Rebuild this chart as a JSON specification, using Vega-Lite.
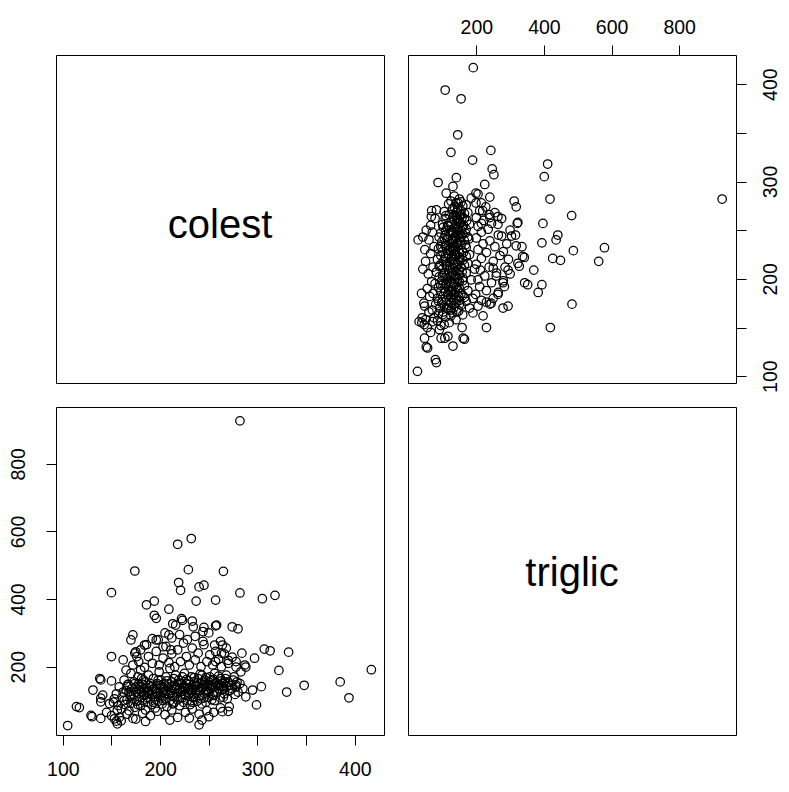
{
  "$schema": "https://vega.github.io/schema/vega-lite/v6.json",
  "padding": {"left": 7, "top": 16, "right": 0, "bottom": 0},
  "background": "white",
  "bounds": "flush",
  "config": {
    "font": "Liberation Sans",
    "view": {"stroke": "black", "strokeWidth": 1},
    "axis": {"grid": false, "domain": false, "tickColor": "black", "tickSize": 10, "tickWidth": 1, "labelColor": "black", "labelFontSize": 19.5, "labelPadding": 8, "labelFont": "Liberation Sans"}
  },
  "data": {"values": [
    {"colest": 282, "triglic": 927},
    {"colest": 332, "triglic": 243}, {"colest": 322, "triglic": 189}, {"colest": 330, "triglic": 125}, {"colest": 348, "triglic": 145}, {"colest": 385, "triglic": 155}, {"colest": 394, "triglic": 108}, {"colest": 417, "triglic": 191},
    {"colest": 232, "triglic": 579}, {"colest": 218, "triglic": 562}, {"colest": 174, "triglic": 483}, {"colest": 229, "triglic": 487}, {"colest": 265, "triglic": 482}, {"colest": 150, "triglic": 419}, {"colest": 219, "triglic": 449}, {"colest": 221, "triglic": 426}, {"colest": 240, "triglic": 436}, {"colest": 245, "triglic": 441}, {"colest": 237, "triglic": 394}, {"colest": 257, "triglic": 397}, {"colest": 282, "triglic": 418}, {"colest": 305, "triglic": 401}, {"colest": 318, "triglic": 411}, {"colest": 186, "triglic": 383}, {"colest": 194, "triglic": 394}, {"colest": 209, "triglic": 370}, {"colest": 194, "triglic": 352}, {"colest": 222, "triglic": 342}, {"colest": 233, "triglic": 335},
    {"colest": 307, "triglic": 252}, {"colest": 313, "triglic": 247}, {"colest": 297, "triglic": 225}, {"colest": 284, "triglic": 240}, {"colest": 278, "triglic": 215}, {"colest": 287, "triglic": 205}, {"colest": 299, "triglic": 87}, {"colest": 288, "triglic": 111}, {"colest": 295, "triglic": 131}, {"colest": 304, "triglic": 141}, {"colest": 278, "triglic": 146}, {"colest": 271, "triglic": 82}, {"colest": 264, "triglic": 67}, {"colest": 240, "triglic": 28}, {"colest": 243, "triglic": 42}, {"colest": 105, "triglic": 26}, {"colest": 150, "triglic": 230}, {"colest": 131, "triglic": 131}, {"colest": 117, "triglic": 79}, {"colest": 114, "triglic": 82}, {"colest": 130, "triglic": 52}, {"colest": 139, "triglic": 47}, {"colest": 155, "triglic": 39}, {"colest": 172, "triglic": 47}, {"colest": 139, "triglic": 161}, {"colest": 150, "triglic": 158}, {"colest": 139, "triglic": 107}, {"colest": 170, "triglic": 279}, {"colest": 172, "triglic": 294}, {"colest": 196, "triglic": 343}, {"colest": 234, "triglic": 318}, {"colest": 216, "triglic": 323}, {"colest": 209, "triglic": 294}, {"colest": 245, "triglic": 316}, {"colest": 244, "triglic": 304}, {"colest": 257, "triglic": 321}, {"colest": 274, "triglic": 318}, {"colest": 280, "triglic": 312}, {"colest": 162, "triglic": 220}, {"colest": 174, "triglic": 240}, {"colest": 184, "triglic": 264}, {"colest": 196, "triglic": 279}, {"colest": 203, "triglic": 259}, {"colest": 211, "triglic": 250}, {"colest": 256, "triglic": 264}, {"colest": 264, "triglic": 264}, {"colest": 263, "triglic": 240}, {"colest": 257, "triglic": 215}, {"colest": 283, "triglic": 185}, {"colest": 288, "triglic": 199}, {"colest": 270, "triglic": 219}, {"colest": 278, "triglic": 199}, {"colest": 213, "triglic": 327}, {"colest": 223, "triglic": 337}, {"colest": 258, "triglic": 323}, {"colest": 175, "triglic": 244}, {"colest": 192, "triglic": 283}, {"colest": 138, "triglic": 165}, {"colest": 141, "triglic": 116}, {"colest": 139, "triglic": 96}, {"colest": 129, "triglic": 56}, {"colest": 153, "triglic": 46}, {"colest": 156, "triglic": 31}, {"colest": 153, "triglic": 105}, {"colest": 156, "triglic": 71}, {"colest": 148, "triglic": 91},
    {"colest": 152, "triglic": 95}, {"colest": 155, "triglic": 120}, {"colest": 158, "triglic": 140}, {"colest": 160, "triglic": 75}, {"colest": 161, "triglic": 110}, {"colest": 163, "triglic": 160}, {"colest": 164, "triglic": 88}, {"colest": 165, "triglic": 130}, {"colest": 166, "triglic": 102}, {"colest": 167, "triglic": 148}, {"colest": 168, "triglic": 70}, {"colest": 169, "triglic": 118}, {"colest": 170, "triglic": 180}, {"colest": 170, "triglic": 92}, {"colest": 171, "triglic": 135}, {"colest": 172, "triglic": 105}, {"colest": 173, "triglic": 155}, {"colest": 174, "triglic": 80}, {"colest": 175, "triglic": 125}, {"colest": 176, "triglic": 98}, {"colest": 177, "triglic": 170}, {"colest": 178, "triglic": 112}, {"colest": 179, "triglic": 142}, {"colest": 180, "triglic": 85}, {"colest": 180, "triglic": 190}, {"colest": 181, "triglic": 128}, {"colest": 182, "triglic": 100}, {"colest": 183, "triglic": 160}, {"colest": 184, "triglic": 115}, {"colest": 185, "triglic": 72}, {"colest": 186, "triglic": 138}, {"colest": 187, "triglic": 95}, {"colest": 188, "triglic": 175}, {"colest": 189, "triglic": 120}, {"colest": 190, "triglic": 105}, {"colest": 190, "triglic": 150}, {"colest": 191, "triglic": 88}, {"colest": 192, "triglic": 132}, {"colest": 193, "triglic": 165}, {"colest": 194, "triglic": 110}, {"colest": 195, "triglic": 78}, {"colest": 196, "triglic": 145}, {"colest": 197, "triglic": 122}, {"colest": 198, "triglic": 98}, {"colest": 199, "triglic": 185}, {"colest": 200, "triglic": 135}, {"colest": 200, "triglic": 115}, {"colest": 201, "triglic": 160}, {"colest": 202, "triglic": 90}, {"colest": 203, "triglic": 125}, {"colest": 204, "triglic": 150}, {"colest": 205, "triglic": 105}, {"colest": 206, "triglic": 170}, {"colest": 207, "triglic": 82}, {"colest": 208, "triglic": 140}, {"colest": 209, "triglic": 118}, {"colest": 210, "triglic": 195}, {"colest": 210, "triglic": 100}, {"colest": 211, "triglic": 130}, {"colest": 212, "triglic": 155}, {"colest": 213, "triglic": 112}, {"colest": 214, "triglic": 92}, {"colest": 215, "triglic": 145}, {"colest": 216, "triglic": 175}, {"colest": 217, "triglic": 120}, {"colest": 218, "triglic": 102}, {"colest": 219, "triglic": 160}, {"colest": 220, "triglic": 135}, {"colest": 220, "triglic": 85}, {"colest": 221, "triglic": 110}, {"colest": 222, "triglic": 150}, {"colest": 223, "triglic": 128}, {"colest": 224, "triglic": 95}, {"colest": 225, "triglic": 180}, {"colest": 225, "triglic": 140}, {"colest": 226, "triglic": 115}, {"colest": 227, "triglic": 162}, {"colest": 228, "triglic": 100}, {"colest": 229, "triglic": 132}, {"colest": 230, "triglic": 148}, {"colest": 230, "triglic": 120}, {"colest": 231, "triglic": 88}, {"colest": 232, "triglic": 170}, {"colest": 233, "triglic": 138}, {"colest": 234, "triglic": 108}, {"colest": 235, "triglic": 155}, {"colest": 236, "triglic": 125}, {"colest": 237, "triglic": 145}, {"colest": 238, "triglic": 98}, {"colest": 239, "triglic": 165}, {"colest": 240, "triglic": 130}, {"colest": 240, "triglic": 115}, {"colest": 241, "triglic": 150}, {"colest": 242, "triglic": 105}, {"colest": 243, "triglic": 175}, {"colest": 244, "triglic": 138}, {"colest": 245, "triglic": 122}, {"colest": 246, "triglic": 160}, {"colest": 247, "triglic": 95}, {"colest": 248, "triglic": 142}, {"colest": 249, "triglic": 128}, {"colest": 250, "triglic": 155}, {"colest": 250, "triglic": 110}, {"colest": 251, "triglic": 170}, {"colest": 252, "triglic": 135}, {"colest": 253, "triglic": 148}, {"colest": 254, "triglic": 118}, {"colest": 255, "triglic": 162}, {"colest": 256, "triglic": 100}, {"colest": 257, "triglic": 140}, {"colest": 258, "triglic": 152}, {"colest": 259, "triglic": 125}, {"colest": 260, "triglic": 172}, {"colest": 261, "triglic": 145}, {"colest": 262, "triglic": 108}, {"colest": 263, "triglic": 158}, {"colest": 264, "triglic": 132}, {"colest": 265, "triglic": 150}, {"colest": 266, "triglic": 120}, {"colest": 267, "triglic": 165}, {"colest": 268, "triglic": 140}, {"colest": 269, "triglic": 105}, {"colest": 270, "triglic": 155}, {"colest": 272, "triglic": 130}, {"colest": 273, "triglic": 145}, {"colest": 275, "triglic": 160}, {"colest": 277, "triglic": 118}, {"colest": 278, "triglic": 140}, {"colest": 280, "triglic": 125}, {"colest": 282, "triglic": 150}, {"colest": 285, "triglic": 135},
    {"colest": 165, "triglic": 190}, {"colest": 172, "triglic": 205}, {"colest": 178, "triglic": 215}, {"colest": 184, "triglic": 198}, {"colest": 188, "triglic": 230}, {"colest": 192, "triglic": 210}, {"colest": 196, "triglic": 245}, {"colest": 199, "triglic": 205}, {"colest": 203, "triglic": 225}, {"colest": 206, "triglic": 260}, {"colest": 209, "triglic": 212}, {"colest": 212, "triglic": 238}, {"colest": 215, "triglic": 200}, {"colest": 218, "triglic": 250}, {"colest": 221, "triglic": 215}, {"colest": 224, "triglic": 270}, {"colest": 227, "triglic": 230}, {"colest": 230, "triglic": 205}, {"colest": 233, "triglic": 255}, {"colest": 236, "triglic": 220}, {"colest": 239, "triglic": 240}, {"colest": 242, "triglic": 200}, {"colest": 245, "triglic": 265}, {"colest": 248, "triglic": 215}, {"colest": 251, "triglic": 235}, {"colest": 254, "triglic": 205}, {"colest": 257, "triglic": 245}, {"colest": 260, "triglic": 222}, {"colest": 263, "triglic": 200}, {"colest": 266, "triglic": 238}, {"colest": 270, "triglic": 210}, {"colest": 274, "triglic": 228}, {"colest": 198, "triglic": 280}, {"colest": 205, "triglic": 300}, {"colest": 212, "triglic": 285}, {"colest": 220, "triglic": 295}, {"colest": 228, "triglic": 280}, {"colest": 236, "triglic": 290}, {"colest": 244, "triglic": 275}, {"colest": 250, "triglic": 300}, {"colest": 186, "triglic": 265}, {"colest": 180, "triglic": 250}, {"colest": 176, "triglic": 230}, {"colest": 262, "triglic": 275}, {"colest": 268, "triglic": 255},
    {"colest": 145, "triglic": 65}, {"colest": 150, "triglic": 55}, {"colest": 158, "triglic": 50}, {"colest": 166, "triglic": 60}, {"colest": 175, "triglic": 45}, {"colest": 182, "triglic": 62}, {"colest": 190, "triglic": 55}, {"colest": 197, "triglic": 68}, {"colest": 205, "triglic": 58}, {"colest": 212, "triglic": 72}, {"colest": 218, "triglic": 50}, {"colest": 226, "triglic": 65}, {"colest": 233, "triglic": 75}, {"colest": 240, "triglic": 60}, {"colest": 248, "triglic": 70}, {"colest": 255, "triglic": 65}, {"colest": 262, "triglic": 78}, {"colest": 270, "triglic": 68}, {"colest": 160, "triglic": 40}, {"colest": 185, "triglic": 38}, {"colest": 210, "triglic": 42}, {"colest": 230, "triglic": 48}, {"colest": 250, "triglic": 52},
    {"colest": 175, "triglic": 140}, {"colest": 178, "triglic": 132}, {"colest": 182, "triglic": 148}, {"colest": 185, "triglic": 155}, {"colest": 188, "triglic": 128}, {"colest": 191, "triglic": 140}, {"colest": 194, "triglic": 135}, {"colest": 197, "triglic": 150}, {"colest": 200, "triglic": 145}, {"colest": 203, "triglic": 138}, {"colest": 206, "triglic": 128}, {"colest": 209, "triglic": 150}, {"colest": 212, "triglic": 140}, {"colest": 215, "triglic": 132}, {"colest": 218, "triglic": 146}, {"colest": 221, "triglic": 125}, {"colest": 224, "triglic": 142}, {"colest": 227, "triglic": 150}, {"colest": 230, "triglic": 138}, {"colest": 233, "triglic": 130}, {"colest": 236, "triglic": 142}, {"colest": 239, "triglic": 152}, {"colest": 242, "triglic": 135}, {"colest": 245, "triglic": 148}, {"colest": 248, "triglic": 130}, {"colest": 251, "triglic": 145}, {"colest": 254, "triglic": 138}, {"colest": 257, "triglic": 150}, {"colest": 260, "triglic": 135}, {"colest": 263, "triglic": 142}, {"colest": 266, "triglic": 155}, {"colest": 183, "triglic": 118}, {"colest": 187, "triglic": 108}, {"colest": 195, "triglic": 112}, {"colest": 205, "triglic": 120}, {"colest": 215, "triglic": 110}, {"colest": 225, "triglic": 118}, {"colest": 235, "triglic": 112}, {"colest": 245, "triglic": 108}, {"colest": 255, "triglic": 115}, {"colest": 265, "triglic": 110}, {"colest": 193, "triglic": 95}, {"colest": 203, "triglic": 100}, {"colest": 213, "triglic": 90}, {"colest": 223, "triglic": 108}, {"colest": 233, "triglic": 95}, {"colest": 243, "triglic": 90}, {"colest": 253, "triglic": 102},
    {"colest": 162, "triglic": 125}, {"colest": 166, "triglic": 142}, {"colest": 170, "triglic": 112}, {"colest": 174, "triglic": 150}, {"colest": 177, "triglic": 88}, {"colest": 181, "triglic": 165}, {"colest": 184, "triglic": 135}, {"colest": 187, "triglic": 125}, {"colest": 189, "triglic": 145}, {"colest": 192, "triglic": 118}, {"colest": 195, "triglic": 128}, {"colest": 198, "triglic": 160}, {"colest": 201, "triglic": 108}, {"colest": 204, "triglic": 132}, {"colest": 207, "triglic": 158}, {"colest": 211, "triglic": 122}, {"colest": 214, "triglic": 165}, {"colest": 217, "triglic": 138}, {"colest": 220, "triglic": 152}, {"colest": 223, "triglic": 170}, {"colest": 226, "triglic": 135}, {"colest": 229, "triglic": 158}, {"colest": 232, "triglic": 125}, {"colest": 235, "triglic": 168}, {"colest": 238, "triglic": 132}, {"colest": 241, "triglic": 178}, {"colest": 244, "triglic": 155}, {"colest": 247, "triglic": 168}, {"colest": 250, "triglic": 125}, {"colest": 253, "triglic": 160}, {"colest": 256, "triglic": 180}, {"colest": 259, "triglic": 145}, {"colest": 262, "triglic": 165}, {"colest": 265, "triglic": 138}, {"colest": 268, "triglic": 175}, {"colest": 271, "triglic": 145}, {"colest": 274, "triglic": 135}, {"colest": 276, "triglic": 170}, {"colest": 279, "triglic": 155}, {"colest": 157, "triglic": 85}, {"colest": 163, "triglic": 100}, {"colest": 168, "triglic": 125}, {"colest": 173, "triglic": 118}, {"colest": 178, "triglic": 150}
  ]},
  "columns": 2,
  "spacing": 24,
  "concat": [
    {
      "width": 328, "height": 328,
      "data": {"values": [{"label": "colest"}]},
      "mark": {"type": "text", "fontSize": 40, "font": "Liberation Sans", "color": "black", "dy": 7},
      "encoding": {
        "text": {"field": "label"},
        "x": {"datum": 0.5, "type": "quantitative", "scale": {"domain": [0, 1]}, "axis": null},
        "y": {"datum": 0.5, "type": "quantitative", "scale": {"domain": [0, 1]}, "axis": null}
      }
    },
    {
      "width": 328, "height": 328,
      "mark": {"type": "point", "shape": "circle", "size": 72, "filled": false, "color": "black", "strokeWidth": 1.25, "opacity": 1},
      "encoding": {
        "x": {"field": "triglic", "type": "quantitative", "title": null, "scale": {"domain": [-2, 968], "nice": false, "zero": false}, "axis": {"orient": "top", "values": [200, 400, 600, 800]}},
        "y": {"field": "colest", "type": "quantitative", "title": null, "scale": {"domain": [93, 430], "nice": false, "zero": false}, "axis": {"orient": "right", "values": [100, 150, 200, 250, 300, 350, 400], "labelExpr": "datum.value % 100 === 0 ? datum.label : ''", "labelAngle": -90, "labelAlign": "center", "labelBaseline": "top", "labelPadding": 15}}
      }
    },
    {
      "width": 328, "height": 328,
      "mark": {"type": "point", "shape": "circle", "size": 72, "filled": false, "color": "black", "strokeWidth": 1.25, "opacity": 1},
      "encoding": {
        "x": {"field": "colest", "type": "quantitative", "title": null, "scale": {"domain": [93, 430], "nice": false, "zero": false}, "axis": {"orient": "bottom", "values": [100, 150, 200, 250, 300, 350, 400], "labelExpr": "datum.value % 100 === 0 ? datum.label : ''", "labelPadding": 15}},
        "y": {"field": "triglic", "type": "quantitative", "title": null, "scale": {"domain": [-2, 968], "nice": false, "zero": false}, "axis": {"orient": "left", "values": [200, 400, 600, 800], "labelAngle": -90, "labelAlign": "center", "labelBaseline": "bottom", "labelPadding": 18}}
      }
    },
    {
      "width": 328, "height": 328,
      "data": {"values": [{"label": "triglic"}]},
      "mark": {"type": "text", "fontSize": 40, "font": "Liberation Sans", "color": "black", "dy": 3},
      "encoding": {
        "text": {"field": "label"},
        "x": {"datum": 0.5, "type": "quantitative", "scale": {"domain": [0, 1]}, "axis": null},
        "y": {"datum": 0.5, "type": "quantitative", "scale": {"domain": [0, 1]}, "axis": null}
      }
    }
  ]
}
